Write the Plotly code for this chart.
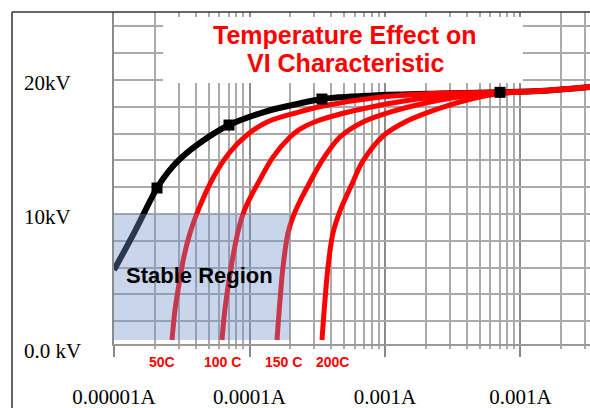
import numpy as np
import plotly.graph_objects as go

# ---------------- data (current in A, voltage in kV) ----------------
black_current = [1.0e-5, 1.429e-5, 2.077e-5, 2.503e-5, 3.122e-5, 4.615e-5, 7.058e-5, 1.279e-4,
                 2.242e-4, 3.428e-4, 8.153e-4, 2.546e-3, 7.059e-3, 1.393e-2, 3.258e-2]
black_voltage = [5.82, 8.73, 11.94, 13.13, 14.18, 15.52, 16.64, 17.61,
                 18.21, 18.58, 18.84, 18.99, 19.08, 19.18, 19.48]

marker_current = [2.077e-5, 7.058e-5, 3.428e-4, 7.059e-3]
marker_voltage = [11.94, 16.64, 18.58, 19.08]

c50_current = [2.68e-5, 2.82e-5, 3.02e-5, 3.29e-5, 3.64e-5, 4.10e-5, 5.38e-5, 7.18e-5, 9.58e-5,
               1.35e-4, 2.24e-4, 3.49e-4, 8.15e-4, 1.91e-3, 5.03e-3, 1.393e-2, 3.258e-2]
c50_voltage = [0.6, 2.84, 4.78, 6.87, 8.58, 10.07, 12.69, 14.63, 15.90,
               16.87, 17.57, 18.06, 18.66, 18.96, 19.07, 19.18, 19.48]

c100_current = [6.267e-5, 6.484e-5, 6.708e-5, 7.302e-5, 8.087e-5, 8.954e-5, 1.009e-4, 1.136e-4,
                1.491e-4, 1.990e-4, 2.359e-4, 3.150e-4, 6.214e-4, 1.453e-3, 3.399e-3, 7.059e-3,
                1.393e-2, 3.258e-2]
c100_voltage = [0.6, 2.24, 3.51, 5.97, 8.36, 10.0, 11.19, 12.16,
                14.25, 15.75, 16.34, 16.94, 17.76, 18.47, 18.88, 19.07,
                19.18, 19.48]

c150_current = [1.596e-4, 1.680e-4, 1.767e-4, 1.923e-4, 2.094e-4, 2.359e-4, 2.796e-4, 3.487e-4,
                4.655e-4, 6.880e-4, 1.089e-3, 2.546e-3, 4.775e-3, 1.393e-2, 3.258e-2]
c150_voltage = [0.6, 3.58, 6.04, 8.58, 9.78, 10.97, 12.39, 14.10,
                15.75, 16.87, 17.61, 18.51, 18.92, 19.18, 19.48]

c200_current = [3.428e-4, 3.607e-4, 3.796e-4, 4.132e-4, 4.655e-4, 5.154e-4, 5.707e-4, 6.880e-4,
                9.666e-4, 1.453e-3, 2.546e-3, 4.461e-3, 7.059e-3, 1.393e-2, 3.258e-2]
c200_voltage = [0.6, 3.58, 6.04, 8.58, 10.22, 11.27, 12.24, 13.96,
                15.82, 16.94, 17.91, 18.62, 18.99, 19.18, 19.48]

region_current = [1e-5, 2e-4]
region_voltage = [0.6, 10.0]

temp_labels = ["50C", "100 C", "150 C", "200C"]
temp_label_current = [2.26e-5, 6.37e-5, 1.77e-4, 4.13e-4]

y_label_text = ["20kV", "10kV", "0.0 kV"]
y_label_values = [20, 10, 0]

x_tick_values = [1e-5, 1e-4, 1e-3, 1e-2]
x_tick_text = ["0.00001A", "0.0001A", "0.001A", "0.001A"]

title_lines = ["Temperature Effect on", "VI Characteristic"]
region_label = "Stable Region"

# ---------------- figure ----------------
XR = [-5.0, -1.487]
YR = [0.3, 25.075]

def ypaper(v):
    return (v - YR[0]) / (YR[1] - YR[0])

fig = go.Figure()

fig.add_trace(go.Scatter(x=black_current, y=black_voltage, mode="lines",
                         line=dict(color="black", width=6, shape="spline", smoothing=1.0),
                         hoverinfo="skip"))
for cx, vy in [(c50_current, c50_voltage), (c100_current, c100_voltage),
               (c150_current, c150_voltage), (c200_current, c200_voltage)]:
    fig.add_trace(go.Scatter(x=cx, y=vy, mode="lines",
                             line=dict(color="#ff0000", width=5, shape="spline", smoothing=1.0),
                             hoverinfo="skip"))

# stable region overlay (semi-transparent, drawn above curves)
rx = [region_current[0], region_current[1], region_current[1], region_current[0], region_current[0]]
ry = [region_voltage[0], region_voltage[0], region_voltage[1], region_voltage[1], region_voltage[0]]
fig.add_trace(go.Scatter(x=rx, y=ry, mode="lines", fill="toself",
                         fillcolor="rgba(110,145,200,0.38)", line=dict(width=0),
                         hoverinfo="skip"))

fig.add_trace(go.Scatter(x=marker_current, y=marker_voltage, mode="markers",
                         marker=dict(symbol="square", size=11, color="black"),
                         hoverinfo="skip"))

minor_vals = []
for d in range(-5, -1):
    for m in range(2, 10):
        v = m * 10.0 ** d
        if np.log10(v) <= XR[1]:
            minor_vals.append(v)

fig.update_xaxes(type="log", range=XR, tickmode="array", tickvals=x_tick_values,
                 ticktext=x_tick_text, ticks="outside", ticklen=11, tickwidth=1.5,
                 tickcolor="#888888", showgrid=True, gridcolor="#8c8c8c", gridwidth=1.6,
                 showline=True, linecolor="#999999", linewidth=1.5, zeroline=False,
                 tickfont=dict(family="Liberation Serif", size=21, color="black"),
                 ticklabelstandoff=22,
                 minor=dict(tickmode="array", tickvals=minor_vals, ticks="outside", ticklen=3,
                            tickcolor="#aaaaaa", tickwidth=1.5, showgrid=True,
                            gridcolor="#aaaaaa", gridwidth=1.6))
fig.update_yaxes(range=YR, tick0=0, dtick=2, showticklabels=False, ticks="",
                 showgrid=True, gridcolor="#aaaaaa", gridwidth=1.6, zeroline=False,
                 showline=True, linecolor="#8c8c8c", linewidth=1.5)

shapes = [
    # white title box
    dict(type="rect", xref="paper", yref="paper", x0=0.103, x1=0.859, y0=0.786, y1=0.985,
         fillcolor="white", line=dict(width=0), layer="above"),
    # outer frame
    dict(type="line", xref="paper", yref="paper", x0=-0.2143, x1=-0.2143, y0=-0.2, y1=1.0,
         line=dict(color="#333333", width=1.5)),
    dict(type="line", xref="paper", yref="paper", x0=-0.2143, x1=1.0, y0=1.0, y1=1.0,
         line=dict(color="#333333", width=1.5)),
]

annotations = []
title_font = dict(family="Liberation Sans, Arial", size=25, color="#ff0000")
annotations.append(dict(text="<b>%s</b>" % title_lines[0], xref="paper", yref="paper",
                        x=0.485, y=ypaper((348 - 35) / 13.4), showarrow=False,
                        xanchor="center", yanchor="middle", font=title_font))
annotations.append(dict(text="<b>%s</b>" % title_lines[1], xref="paper", yref="paper",
                        x=0.487, y=ypaper((348 - 63) / 13.4), showarrow=False,
                        xanchor="center", yanchor="middle", font=title_font))

annotations.append(dict(text="<b>%s</b>" % region_label, xref="x", yref="y",
                        x=np.log10(4.3e-5), y=5.4, showarrow=False,
                        xanchor="center", yanchor="middle",
                        font=dict(family="Liberation Sans, Arial", size=22, color="black")))

for t, c in zip(temp_labels, temp_label_current):
    annotations.append(dict(text="<b>%s</b>" % t, xref="x", yref="paper",
                            x=np.log10(c), y=-0.054, showarrow=False,
                            xanchor="center", yanchor="middle",
                            font=dict(family="Liberation Sans, Arial", size=14, color="#ff0000")))

for t, v in zip(y_label_text, y_label_values):
    annotations.append(dict(text=t, xref="paper", yref="paper", x=-0.193, y=ypaper(v),
                            yshift=-3, showarrow=False, xanchor="left", yanchor="middle",
                            font=dict(family="Liberation Serif", size=21, color="black")))

fig.update_layout(width=590, height=408, margin=dict(l=114, r=0, t=12, b=64),
                  paper_bgcolor="white", plot_bgcolor="white", showlegend=False,
                  shapes=shapes, annotations=annotations)

fig.write_html("out.html")
